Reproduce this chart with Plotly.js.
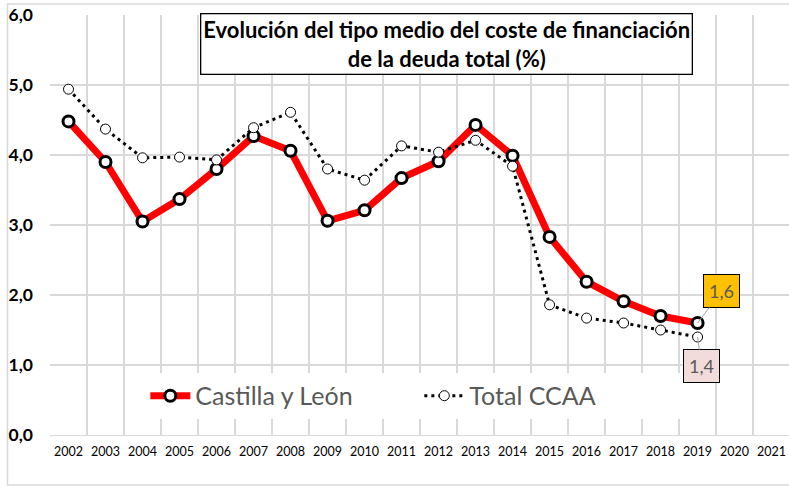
<!DOCTYPE html>
<html><head><meta charset="utf-8">
<script src="https://cdn.plot.ly/plotly-3.0.1.min.js"></script>
<style>html,body{margin:0;padding:0;background:#fff}#c{width:789px;height:486px}</style>
</head><body><div id="c"></div>
<script>
const years = ['2002','2003','2004','2005','2006','2007','2008','2009','2010','2011','2012','2013','2014','2015','2016','2017','2018','2019','2020','2021'];
const castillaLeon = [4.48,3.90,3.05,3.37,3.80,4.27,4.06,3.06,3.21,3.67,3.91,4.43,3.99,2.83,2.19,1.91,1.70,1.60,null,null];
const totalCCAA = [4.94,4.37,3.96,3.97,3.93,4.39,4.61,3.80,3.64,4.13,4.04,4.21,3.84,1.86,1.67,1.60,1.50,1.40,null,null];
const seriesNames = ['Castilla y León','Total CCAA'];
const titleText = 'Evolución del tipo medio del coste de financiación<br>de la deuda total (%)';

const fmt = v => v.toFixed(1).replace('.', ',');
const lastIdx = 17;

const traces = [
  {x: years, y: castillaLeon, name: seriesNames[0], type: 'scatter', mode: 'lines+markers',
   line: {color: '#FF0000', width: 7},
   marker: {symbol: 'circle', size: 11, color: '#FFFFFF', line: {color: '#000000', width: 3}}},
  {x: years, y: totalCCAA, name: seriesNames[1], type: 'scatter', mode: 'lines+markers',
   line: {color: '#000000', width: 3, dash: '3px,4px'},
   marker: {symbol: 'circle', size: 10, color: '#FFFFFF', line: {color: '#000000', width: 1}}}
];

const layout = {
  width: 789, height: 486,
  margin: {l: 49.5, r: 0, t: 15, b: 51},
  paper_bgcolor: '#FFFFFF', plot_bgcolor: '#FFFFFF',
  separators: ',.',
  font: {family: 'Lato, Carlito, Calibri, sans-serif', color: '#000000'},
  showlegend: true,
  legend: {orientation: 'h', x: 0.129, y: 0.093, xanchor: 'left', yanchor: 'middle',
           bgcolor: '#FFFFFF', font: {size: 25, color: '#595959'}, entrywidth: 219, itemwidth: 40},
  xaxis: {type: 'category', range: [-0.5, 19.47], tickson: 'boundaries', showgrid: true,
          gridcolor: '#D9D9D9', gridwidth: 1.2, ticks: '', showline: true, linecolor: '#D9D9D9',
          ticklabelstandoff: 5, tickangle: 0,
          tickfont: {size: 12.5, color: '#000000'}, fixedrange: true},
  yaxis: {range: [0, 6], dtick: 1, tickformat: '.1f', showgrid: true, gridcolor: '#D9D9D9', gridwidth: 1.2,
          zeroline: false, showline: false, ticks: '', ticklabelstandoff: 16,
          tickfont: {size: 17.5, color: '#000000', weight: 'bold'}, fixedrange: true},
  shapes: [
    {type: 'rect', xref: 'paper', yref: 'paper', x0: -0.0575, x1: 1.02, y0: -0.119, y1: 1.026,
     line: {color: '#D9D9D9', width: 1.5}, fillcolor: 'rgba(0,0,0,0)', layer: 'below'}
  ],
  annotations: [
    {xref: 'paper', yref: 'paper', x: 0.536, y: 0.932, xanchor: 'center', yanchor: 'middle',
     text: '<b>' + titleText + '</b>', showarrow: false, align: 'center',
     font: {size: 22, color: '#000000'}, bgcolor: '#FFFFFF', bordercolor: '#000000', borderwidth: 1.3, borderpad: 2},
    {x: lastIdx, y: castillaLeon[lastIdx], xref: 'x', yref: 'y', text: fmt(castillaLeon[lastIdx]),
     showarrow: true, arrowhead: 0, arrowwidth: 1, arrowcolor: '#A6A6A6', ax: 24, ay: -32,
     font: {size: 18, color: '#595959'}, bgcolor: '#FFC000', bordercolor: '#000000', borderwidth: 1, borderpad: 5},
    {x: lastIdx, y: totalCCAA[lastIdx], xref: 'x', yref: 'y', text: fmt(totalCCAA[lastIdx]),
     showarrow: true, arrowhead: 0, arrowwidth: 1, arrowcolor: '#A6A6A6', ax: 4, ay: 29,
     font: {size: 18, color: '#595959'}, bgcolor: '#F2DCDB', bordercolor: '#000000', borderwidth: 1, borderpad: 5}
  ]
};

Plotly.newPlot('c', traces, layout, {displayModeBar: false, staticPlot: true});
</script>
</body></html>
